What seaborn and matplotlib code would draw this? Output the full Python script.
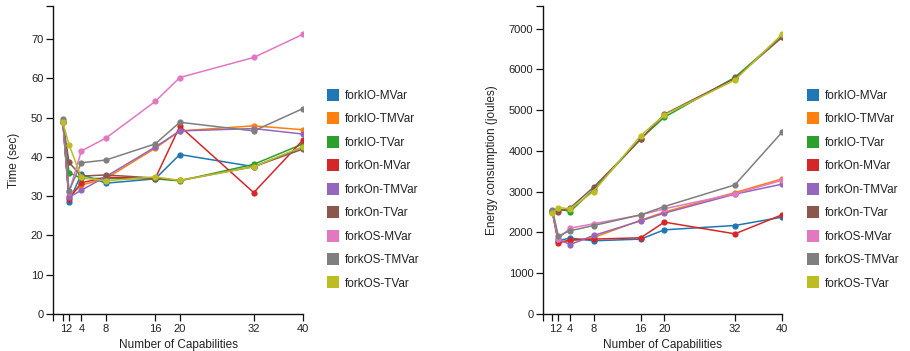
import numpy as np
import pandas as pd
import matplotlib
matplotlib.use("Agg")
import matplotlib.pyplot as plt
import seaborn as sns
from matplotlib.lines import Line2D

sns.set_style("white")
plt.rcParams['font.family'] = ['Liberation Sans', 'DejaVu Sans']

caps = [1, 2, 4, 8, 16, 20, 32, 40]
series = ["forkIO-MVar", "forkIO-TMVar", "forkIO-TVar", "forkOn-MVar", "forkOn-TMVar",
          "forkOn-TVar", "forkOS-MVar", "forkOS-TMVar", "forkOS-TVar"]

time_forkIO_MVar = [49.0, 28.6, 35.6, 33.3, 34.4, 40.6, 37.5, 42.5]
time_forkIO_TMVar = [49.0, 30.0, 32.8, 34.5, 42.2, 46.6, 47.9, 46.9]
time_forkIO_TVar = [49.0, 36.0, 34.5, 34.5, 34.4, 33.9, 38.1, 43.3]
time_forkOn_MVar = [49.0, 29.3, 33.4, 34.8, 34.5, 47.8, 30.9, 44.3]
time_forkOn_TMVar = [49.0, 29.7, 31.5, 35.0, 42.5, 46.6, 47.2, 45.8]
time_forkOn_TVar = [49.0, 38.6, 35.1, 35.4, 34.6, 34.0, 37.5, 42.0]
time_forkOS_MVar = [49.0, 31.0, 41.5, 44.8, 54.1, 60.2, 65.3, 71.2]
time_forkOS_TMVar = [49.6, 31.3, 38.5, 39.2, 43.3, 48.8, 46.6, 52.3]
time_forkOS_TVar = [48.8, 43.1, 34.8, 33.9, 34.9, 34.0, 37.5, 42.6]

energy_forkIO_MVar = [2500, 1800, 1862, 1796, 1837, 2065, 2171, 2376]
energy_forkIO_TMVar = [2500, 1780, 1790, 1877, 2300, 2500, 2979, 3315]
energy_forkIO_TVar = [2520, 2580, 2514, 3050, 4300, 4826, 5806, 6820]
energy_forkOn_MVar = [2500, 1740, 1820, 1837, 1870, 2254, 1967, 2433]
energy_forkOn_TMVar = [2500, 1830, 1705, 1926, 2286, 2474, 2940, 3185]
energy_forkOn_TVar = [2520, 2514, 2600, 3111, 4287, 4900, 5780, 6786]
energy_forkOS_MVar = [2500, 1850, 2107, 2212, 2430, 2580, 2950, 3280]
energy_forkOS_TMVar = [2555, 1918, 2041, 2171, 2433, 2636, 3168, 4459]
energy_forkOS_TVar = [2474, 2612, 2580, 3004, 4376, 4883, 5740, 6860]

time_vals = [time_forkIO_MVar, time_forkIO_TMVar, time_forkIO_TVar, time_forkOn_MVar,
             time_forkOn_TMVar, time_forkOn_TVar, time_forkOS_MVar, time_forkOS_TMVar,
             time_forkOS_TVar]
energy_vals = [energy_forkIO_MVar, energy_forkIO_TMVar, energy_forkIO_TVar, energy_forkOn_MVar,
               energy_forkOn_TMVar, energy_forkOn_TVar, energy_forkOS_MVar, energy_forkOS_TMVar,
               energy_forkOS_TVar]

rows = []
for s, tv, ev in zip(series, time_vals, energy_vals):
    for c, t, e in zip(caps, tv, ev):
        rows.append({"cap": c, "time": t, "energy": e, "series": s})
df = pd.DataFrame(rows)

palette = dict(zip(series, sns.color_palette("tab10", 9)))

fig = plt.figure(figsize=(9.10, 3.51), dpi=100)
W, H = 910, 351
ax1 = fig.add_axes([53 / W, 1 - 314 / H, 250 / W, 308 / H])
ax2 = fig.add_axes([543 / W, 1 - 314 / H, 239 / W, 308 / H])

txt = '#222222'
for ax, col, ylab, ymax, yticks in [
        (ax1, "time", "Time (sec)", 78.4, list(range(0, 80, 10))),
        (ax2, "energy", "Energy consumption (joules)", 7556, list(range(0, 8000, 1000)))]:
    sns.lineplot(data=df, x="cap", y=col, hue="series", hue_order=series, palette=palette,
                 marker="o", markersize=4.5, markeredgewidth=0, linewidth=1.1,
                 legend=False, ax=ax, estimator=None, sort=False)
    ax.set_xlim(-0.6, 40)
    ax.set_ylim(0, ymax)
    ax.set_xticks(caps)
    ax.set_xticklabels([str(c) for c in caps])
    ax.set_yticks(yticks)
    ax.set_xticks([-0.6], minor=True)
    ax.set_yticks([ymax], minor=True)
    for sp in ["top", "right"]:
        ax.spines[sp].set_visible(False)
    for sp in ["left", "bottom"]:
        ax.spines[sp].set_color('#111111')
        ax.spines[sp].set_linewidth(1.0)
    ax.tick_params(axis='both', which='both', direction='out', length=5, width=0.9,
                   color='#111111', labelsize=8, labelcolor=txt, left=True, bottom=True, pad=2)
    ax.set_xlabel("Number of Capabilities", fontsize=8.5, color=txt, labelpad=4)
    ax.set_ylabel(ylab, fontsize=8.5, color=txt, labelpad=8)

handles = [Line2D([], [], linestyle='none', marker='s', markersize=8.5,
                  markerfacecolor=palette[s], markeredgewidth=0) for s in series]
for x0 in (327, 807):
    fig.legend(handles, series, loc='upper left', bbox_to_anchor=(x0 / W, 1 - 90 / H),
               frameon=False, fontsize=8.5, labelcolor=txt, borderpad=0, borderaxespad=0,
               handlelength=1.0, handletextpad=0.5, labelspacing=0.97)

fig.savefig("out.png", dpi=100)
